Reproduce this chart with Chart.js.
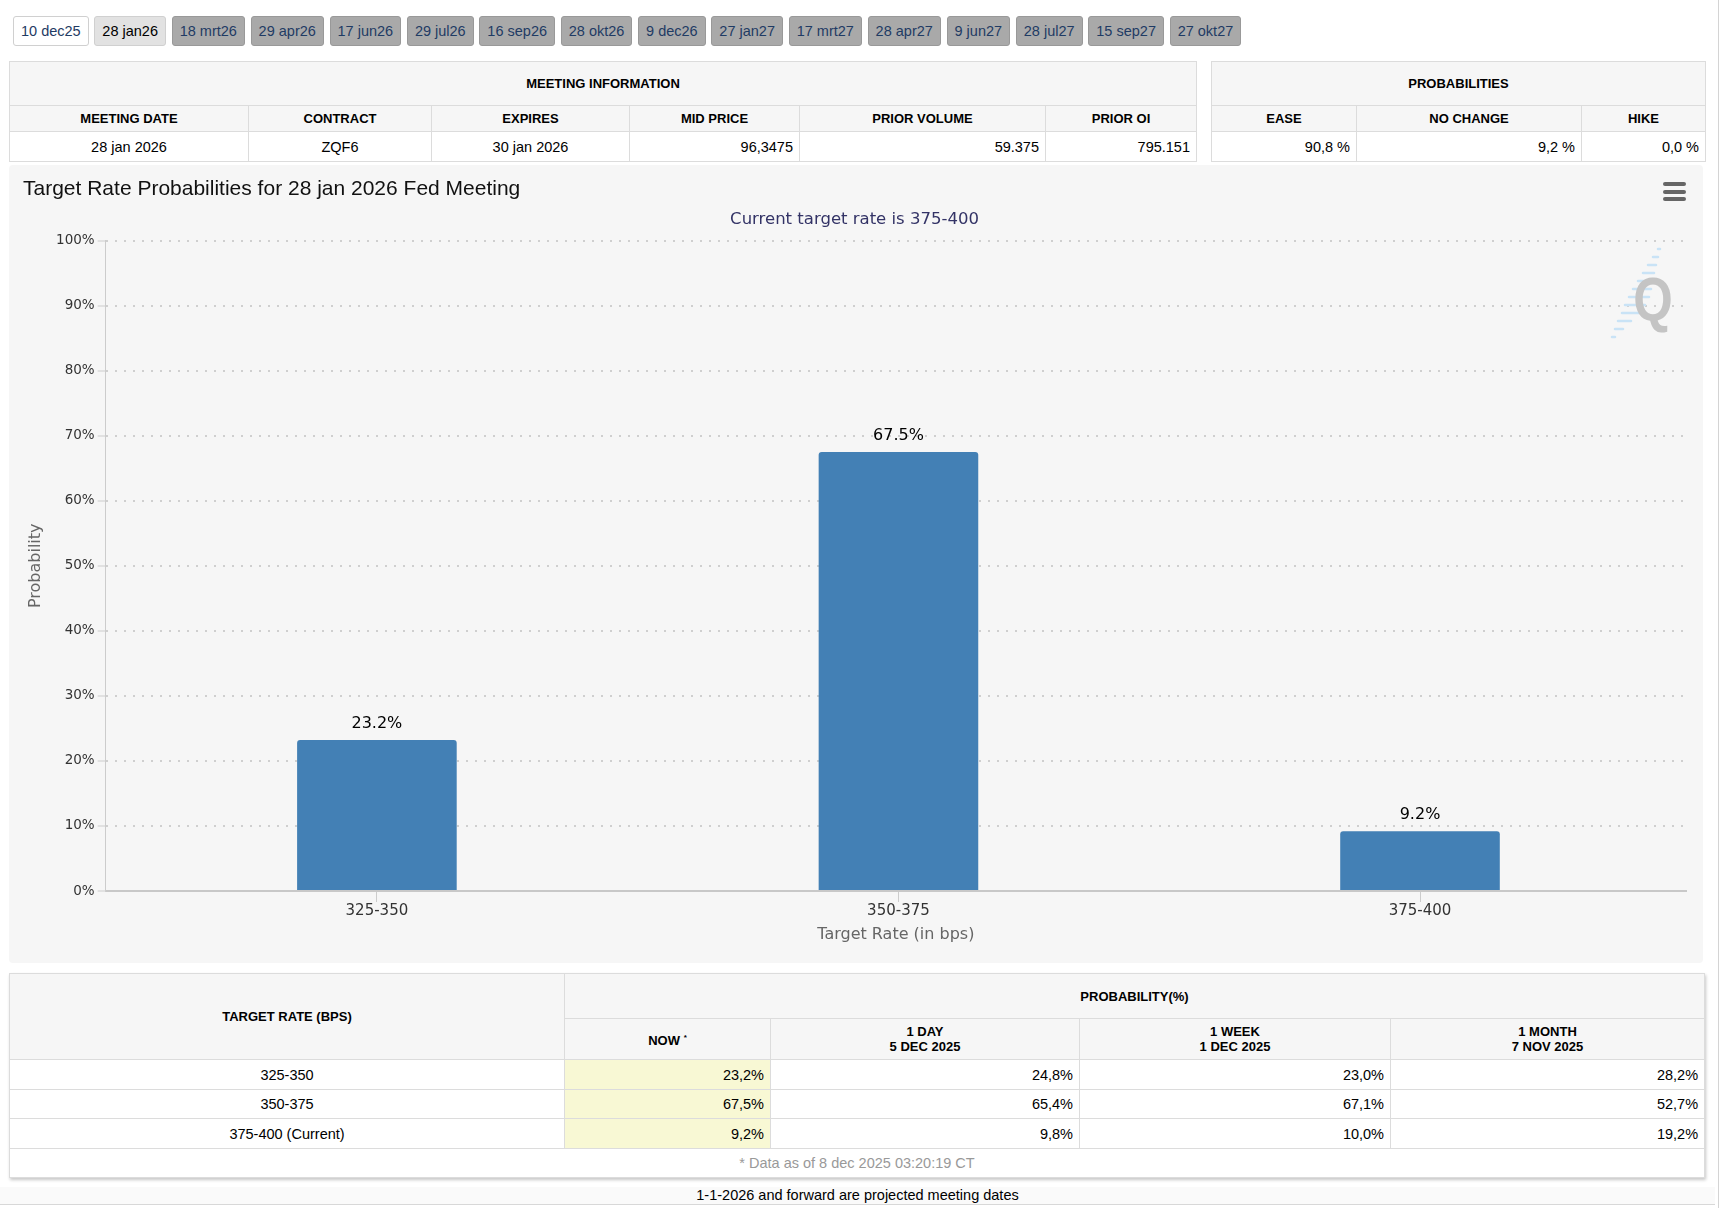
<!DOCTYPE html>
<html>
<head>
<meta charset="utf-8">
<script src="https://cdn.jsdelivr.net/npm/chart.js@4.4.1/dist/chart.umd.min.js"></script>
<style>
  body { margin: 0; width: 1720px; height: 1208px; background: #fff; position: relative; overflow: hidden;
         font-family: "Liberation Sans", Arial, sans-serif; color: #000; }
  .edge { position: absolute; left: 1718px; top: 0; width: 1px; height: 1208px; background: #d4d4d4; }
  #tabs { position: absolute; left: 13px; top: 16px; white-space: nowrap; font-size: 14.5px; }
  #tabs span { display: inline-block; height: 28px; line-height: 28px; padding: 0 7px; margin-right: 5.7px;
               border: 1px solid #999; border-radius: 3px; background: #a9a9a9; color: #1f3b64; }
  #tabs span.first { background: #fff; border-color: #d0d0d0; }
  #tabs span.sel { background: #e2e2e2; border-color: #d0d0d0; color: #000; }
  table { position: absolute; border-collapse: collapse; table-layout: fixed; font-size: 14.5px; }
  th, td { border: 1px solid #dcdcdc; padding: 0 6px; overflow: hidden; white-space: nowrap; }
  th { background: #f6f6f6; font-size: 13px; font-weight: bold; text-align: center; }
  td { background: #fff; }
  td.c { text-align: center; }
  td.r { text-align: right; }
  td.now { background: #f8f8d4; }
  #probTbl { box-shadow: 1px 2px 3px rgba(0,0,0,0.22); }
  #probTbl td.foot { text-align: center; color: #999; }
  #chartBox { position: absolute; left: 9px; top: 165px; width: 1694px; height: 798px; background: #f6f6f6;
              border-radius: 4px; }
  #menu { position: absolute; left: 1654px; top: 17px; width: 23px; }
  #menu div { height: 4px; border-radius: 2px; background: #666; margin-bottom: 3.5px; }
  #logo { position: absolute; left: 1596px; top: 78px; pointer-events: none; }
  #note { position: absolute; left: 0; top: 1187px; width: 1715px; text-align: center; font-size: 14.5px;
          height: 17px; line-height: 17px; border-bottom: 1px solid #d8d8d8; background: #fafafa; }
</style>
</head>
<body>
<div class="edge"></div>
<div id="tabs"></div>

<table id="meetTbl" style="left:9px; top:61px; width:1187px">
  <colgroup><col style="width:239px"><col style="width:183px"><col style="width:198px"><col style="width:170px"><col style="width:246px"><col style="width:151px"></colgroup>
  <tr style="height:44px"><th colspan="6">MEETING INFORMATION</th></tr>
  <tr style="height:26px"><th>MEETING DATE</th><th>CONTRACT</th><th>EXPIRES</th><th>MID PRICE</th><th>PRIOR VOLUME</th><th>PRIOR OI</th></tr>
  <tr style="height:30px" id="meetRow"></tr>
</table>

<table id="sumTbl" style="left:1211px; top:61px; width:494px">
  <colgroup><col style="width:145px"><col style="width:225px"><col style="width:124px"></colgroup>
  <tr style="height:44px"><th colspan="3">PROBABILITIES</th></tr>
  <tr style="height:26px"><th>EASE</th><th>NO CHANGE</th><th>HIKE</th></tr>
  <tr style="height:30px" id="sumRow"></tr>
</table>

<div id="chartBox">
  <canvas id="rateChart"></canvas>
  <div id="menu"><div></div><div></div><div></div></div>
  <svg id="logo" width="90" height="104" viewBox="0 0 90 104">
    <g stroke="#c9e3f6" stroke-width="2.5" stroke-linecap="round">
      <line x1="53" y1="6" x2="55" y2="6"/>
      <line x1="48" y1="14" x2="53" y2="14"/>
      <line x1="43" y1="22" x2="51" y2="22"/>
      <line x1="38" y1="30" x2="49" y2="30"/>
      <line x1="33" y1="38" x2="48" y2="38"/>
      <line x1="28" y1="46" x2="46" y2="46"/>
      <line x1="24" y1="54" x2="44" y2="54"/>
      <line x1="20" y1="62" x2="40" y2="62"/>
      <line x1="17" y1="70" x2="34" y2="70"/>
      <line x1="13" y1="78" x2="26" y2="78"/>
      <line x1="10" y1="86" x2="18" y2="86"/>
      <line x1="7" y1="94" x2="10" y2="94"/>
    </g>
    <text x="48" y="77" text-anchor="middle" font-family="Liberation Sans, Arial" font-weight="bold" font-size="62"
          fill="#c4c4c4" transform="translate(48 0) scale(0.82 1) translate(-48 0)">Q</text>
  </svg>
</div>

<table id="probTbl" style="left:9px; top:973px; width:1695px">
  <colgroup><col style="width:555px"><col style="width:206px"><col style="width:309px"><col style="width:311px"><col style="width:314px"></colgroup>
  <tr style="height:45px"><th rowspan="2">TARGET RATE (BPS)</th><th colspan="4">PROBABILITY(%)</th></tr>
  <tr style="height:41px" id="periodRow"></tr>
</table>

<div id="note">1-1-2026 and forward are projected meeting dates</div>

<script>
// meeting tabs
const meetingTabs = ['10 dec25', '28 jan26', '18 mrt26', '29 apr26', '17 jun26', '29 jul26', '16 sep26',
  '28 okt26', '9 dec26', '27 jan27', '17 mrt27', '28 apr27', '9 jun27', '28 jul27', '15 sep27', '27 okt27'];

// meeting information
const meetingInfo = ['28 jan 2026', 'ZQF6', '30 jan 2026', '96,3475', '59.375', '795.151'];
const meetingAlign = ['c', 'c', 'c', 'r', 'r', 'r'];
const summaryProbs = [90.8, 9.2, 0.0]; // ease, no change, hike

// target rate probabilities
const currentRate = '375-400';
const targetRates = ['325-350', '350-375', '375-400'];
const probNow = [23.2, 67.5, 9.2];
const prob1Day = [24.8, 65.4, 9.8];
const prob1Week = [23.0, 67.1, 10.0];
const prob1Month = [28.2, 52.7, 19.2];
const periodHeads = ['NOW <sup style="font-size:8px">*</sup>', '1 DAY<br>5 DEC 2025', '1 WEEK<br>1 DEC 2025', '1 MONTH<br>7 NOV 2025'];
const dataStamp = '* Data as of 8 dec 2025 03:20:19 CT';

const comma = v => v.toFixed(1).replace('.', ',');

document.getElementById('tabs').innerHTML = meetingTabs.map((t, i) =>
  '<span class="' + (i === 0 ? 'first' : i === 1 ? 'sel' : '') + '">' + t + '</span>').join('');

document.getElementById('meetRow').innerHTML = meetingInfo.map((v, i) =>
  '<td class="' + meetingAlign[i] + '">' + v + '</td>').join('');
document.getElementById('sumRow').innerHTML = summaryProbs.map(v =>
  '<td class="r">' + comma(v) + ' %</td>').join('');

document.getElementById('periodRow').innerHTML = periodHeads.map(h =>
  '<th style="line-height:15px">' + h + '</th>').join('');

const probTbl = document.getElementById('probTbl');
const rowHeights = [30, 29, 30];
targetRates.forEach((r, i) => {
  const tr = probTbl.insertRow();
  tr.style.height = rowHeights[i] + 'px';
  const name = r === currentRate ? r + ' (Current)' : r;
  tr.innerHTML = '<td class="c">' + name + '</td>' +
    '<td class="r now">' + comma(probNow[i]) + '%</td>' +
    '<td class="r">' + comma(prob1Day[i]) + '%</td>' +
    '<td class="r">' + comma(prob1Week[i]) + '%</td>' +
    '<td class="r">' + comma(prob1Month[i]) + '%</td>';
});
const foot = probTbl.insertRow();
foot.style.height = '29px';
foot.innerHTML = '<td class="foot" colspan="5">' + dataStamp + '</td>';

// labels above the bars
const valueLabels = {
  id: 'valueLabels',
  afterDatasetsDraw(chart) {
    const ctx = chart.ctx;
    const meta = chart.getDatasetMeta(0);
    ctx.save();
    ctx.font = '16px "DejaVu Sans"';
    ctx.fillStyle = '#000';
    ctx.textAlign = 'center';
    ctx.textBaseline = 'middle';
    meta.data.forEach((bar, i) => {
      ctx.fillText(probNow[i].toFixed(1) + '%', bar.x, bar.y - 16);
    });
    ctx.restore();
  }
};

Chart.defaults.font.family = '"DejaVu Sans", sans-serif';

// x is a linear index axis so the category slots can sit a bit inside the y axis line
new Chart(document.getElementById('rateChart'), {
  type: 'bar',
  data: {
    datasets: [{
      data: probNow.map((v, i) => ({ x: i, y: v })),
      backgroundColor: '#4380b5',
      borderRadius: { topLeft: 3, topRight: 3, bottomLeft: 0, bottomRight: 0 },
      borderSkipped: false,
      barPercentage: 0.306,
      categoryPercentage: 1
    }]
  },
  options: {
    responsive: true,
    maintainAspectRatio: false,
    animation: false,
    layout: { padding: { top: 0, left: 14, right: 17, bottom: 14 } },
    plugins: {
      legend: { display: false },
      tooltip: { enabled: false },
      title: {
        display: true,
        text: 'Target Rate Probabilities for 28 jan 2026 Fed Meeting',
        align: 'start',
        color: '#111',
        font: { family: '"Liberation Sans", Arial', size: 21, weight: 'normal' },
        padding: { top: 12, bottom: 0 }
      },
      subtitle: {
        display: true,
        text: 'Current target rate is ' + currentRate,
        color: '#333366',
        font: { size: 16.5 },
        padding: { top: 8, bottom: 10.5 }
      }
    },
    scales: {
      x: {
        type: 'linear',
        offset: false,
        min: -0.52,
        max: 2.51,
        grid: { display: true, offset: false, drawOnChartArea: false, tickLength: 11, tickColor: '#cccccc' },
        border: { color: '#c8c8c8', width: 2 },
        ticks: { stepSize: 1, includeBounds: false, color: '#333', font: { size: 15 }, padding: 0,
                 callback: v => targetRates[v] },
        title: { display: true, text: 'Target Rate (in bps)', color: '#666', font: { size: 16 },
                 padding: { top: 5.4, bottom: 4.4 } }
      },
      y: {
        min: 0,
        max: 100,
        ticks: { stepSize: 10, callback: v => v + '%', color: '#333', font: { size: 13.5 }, padding: 3 },
        grid: { color: '#cfcfcf', lineWidth: 2, tickLength: 8, tickColor: '#cccccc', tickWidth: 1 },
        border: { color: '#cccccc', width: 1, dash: [2, 7] },
        title: { display: true, text: 'Probability', color: '#666', font: { size: 16 },
                 padding: { top: 3.4, bottom: 7.5 } }
      }
    }
  },
  plugins: [valueLabels]
});
</script>
</body>
</html>
